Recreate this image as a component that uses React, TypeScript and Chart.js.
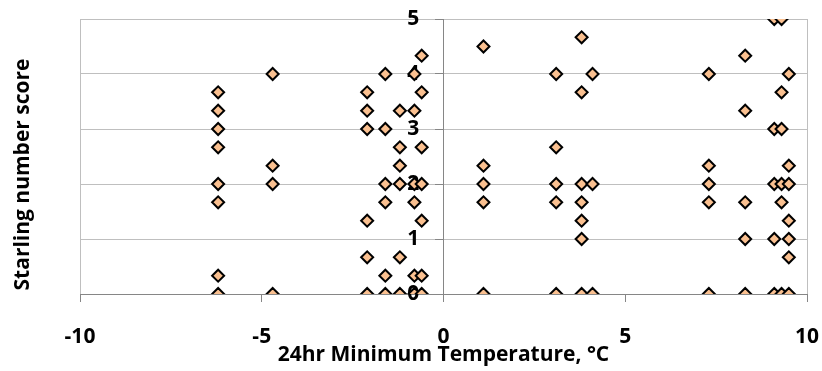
import React, { useEffect, useRef } from "react";
import { Chart, registerables } from "chart.js";

Chart.register(...registerables);

// 24hr minimum temperature (°C) of each observation
const minTemp: number[] = [
  -6.2, -6.2, -6.2, -6.2, -6.2, -6.2, -6.2, -6.2,
  -4.7, -4.7, -4.7, -4.7,
  -2.1, -2.1, -2.1, -2.1, -2.1, -2.1,
  -1.6, -1.6, -1.6, -1.6, -1.6, -1.6,
  -1.2, -1.2, -1.2, -1.2, -1.2, -1.2,
  -0.8, -0.8, -0.8, -0.8, -0.8, -0.8,
  -0.6, -0.6, -0.6, -0.6, -0.6, -0.6, -0.6,
  1.1, 1.1, 1.1, 1.1, 1.1,
  3.1, 3.1, 3.1, 3.1, 3.1,
  3.8, 3.8, 3.8, 3.8, 3.8, 3.8, 3.8,
  4.1, 4.1, 4.1,
  7.3, 7.3, 7.3, 7.3, 7.3,
  8.3, 8.3, 8.3, 8.3, 8.3,
  9.1, 9.1, 9.1, 9.1, 9.1,
  9.3, 9.3, 9.3, 9.3, 9.3, 9.3,
  9.5, 9.5, 9.5, 9.5, 9.5, 9.5, 9.5,
];

// Starling number score of each observation
const starlingScore: number[] = [
  3.667, 3.333, 3, 2.667, 2, 1.667, 0.333, 0,
  4, 2.333, 2, 0,
  3.667, 3.333, 3, 1.333, 0.667, 0,
  4, 3, 2, 1.667, 0.333, 0,
  3.333, 2.667, 2.333, 2, 0.667, 0,
  4, 3.333, 2, 1.667, 0.333, 0,
  4.333, 3.667, 2.667, 2, 1.333, 0.333, 0,
  4.5, 2.333, 2, 1.667, 0,
  4, 2.667, 2, 1.667, 0,
  4.667, 3.667, 2, 1.667, 1.333, 1, 0,
  4, 2, 0,
  4, 2.333, 2, 1.667, 0,
  4.333, 3.333, 1.667, 1, 0,
  5, 3, 2, 1, 0,
  5, 3.667, 3, 2, 1.667, 0,
  4, 2.333, 2, 1.333, 1, 0.667, 0,
];

const xTickValues: number[] = [-10, -5, 0, 5, 10];
const yTickValues: number[] = [0, 1, 2, 3, 4, 5];
const xAxisTitle = "24hr Minimum Temperature, °C";
const yAxisTitle = "Starling number score";

const FONT = "'Open Sans', Lato, sans-serif";
const FONT_SIZE = 21;
const GRID = "#bfbfbf";
const AXIS = "#868686";
// the value labels of the vertical axis sit a little to the left of the axis line
const Y_LABEL_ANCHOR = -0.67;

const yTitlePlugin = {
  id: "yTitleLeft",
  afterDraw(chart: any) {
    const { ctx, chartArea } = chart;
    ctx.save();
    ctx.translate(chartArea.left - 57, (chartArea.top + chartArea.bottom) / 2 + 18);
    ctx.rotate(-Math.PI / 2);
    ctx.font = `bold ${FONT_SIZE}px ${FONT}`;
    ctx.fillStyle = "#000";
    ctx.textAlign = "center";
    ctx.textBaseline = "middle";
    ctx.fillText(yAxisTitle, 0, 0);
    ctx.restore();
  },
};

const zeroPadY = (scale: any) => {
  scale.paddingTop = 0;
  scale.paddingBottom = 0;
};

export default function App() {
  const canvasRef = useRef<HTMLCanvasElement | null>(null);

  useEffect(() => {
    document.body.style.margin = "0";
    const canvas = canvasRef.current;
    if (!canvas) return;
    const points = minTemp.map((x, i) => ({ x, y: starlingScore[i] }));
    const tickFont = { family: FONT, size: FONT_SIZE, weight: "bold" as const, lineHeight: 1 };
    const chart = new Chart(canvas, {
      type: "scatter",
      data: {
        datasets: [
          {
            data: points,
            yAxisID: "y",
            pointStyle: "rectRot",
            pointRadius: 6,
            pointHoverRadius: 6,
            backgroundColor: "#FAC090",
            borderColor: "#000000",
            borderWidth: 2,
          },
        ],
      },
      options: {
        responsive: false,
        animation: false,
        events: [],
        layout: { padding: { left: 80, right: 15, top: 19, bottom: 0 } },
        plugins: {
          legend: { display: false },
          tooltip: { enabled: false },
        },
        scales: {
          x: {
            type: "linear",
            position: "bottom",
            min: -10,
            max: 10,
            afterBuildTicks: (scale: any) => {
              scale.ticks = xTickValues.map((v) => ({ value: v }));
            },
            afterFit: (scale: any) => {
              scale.paddingLeft = 0;
              scale.paddingRight = 0;
              scale.height = 77;
            },
            grid: {
              drawOnChartArea: true,
              color: (c: any) =>
                c.tick && c.tick.value === 0
                  ? AXIS
                  : c.tick && (c.tick.value === -10 || c.tick.value === 10)
                  ? GRID
                  : "rgba(0,0,0,0)",
              tickColor: AXIS,
              tickLength: 8,
              lineWidth: 1,
            },
            border: { display: true, color: AXIS, width: 1 },
            ticks: {
              autoSkip: false,
              maxRotation: 0,
              padding: 25,
              color: "#000",
              font: tickFont,
            },
            title: {
              display: true,
              text: xAxisTitle,
              color: "#000",
              font: tickFont,
              padding: { top: 0, bottom: 5 },
            },
          },
          y: {
            type: "linear",
            position: { x: Y_LABEL_ANCHOR } as any,
            min: 0,
            max: 5,
            afterBuildTicks: (scale: any) => {
              scale.ticks = yTickValues.map((v) => ({ value: v }));
            },
            afterFit: zeroPadY,
            grid: {
              color: (c: any) => (c.tick && c.tick.value === 0 ? AXIS : GRID),
              drawTicks: false,
              lineWidth: 1,
            },
            border: { display: false },
            ticks: {
              padding: 0,
              color: "#000",
              font: tickFont,
            },
          },
          yAxisLine: {
            type: "linear",
            axis: "y",
            position: { x: 0 } as any,
            min: 0,
            max: 5,
            afterBuildTicks: (scale: any) => {
              scale.ticks = yTickValues.map((v) => ({ value: v }));
            },
            afterFit: zeroPadY,
            grid: {
              drawOnChartArea: false,
              drawTicks: true,
              tickLength: 8,
              tickColor: AXIS,
              color: AXIS,
              lineWidth: 1,
            },
            border: { display: true, color: AXIS, width: 1 },
            ticks: { display: false },
          },
        } as any,
      },
      plugins: [yTitlePlugin],
    });
    return () => chart.destroy();
  }, []);

  return (
    <div style={{ width: 822, height: 371 }}>
      <canvas ref={canvasRef} width={822} height={371} style={{ display: "block" }} />
    </div>
  );
}
